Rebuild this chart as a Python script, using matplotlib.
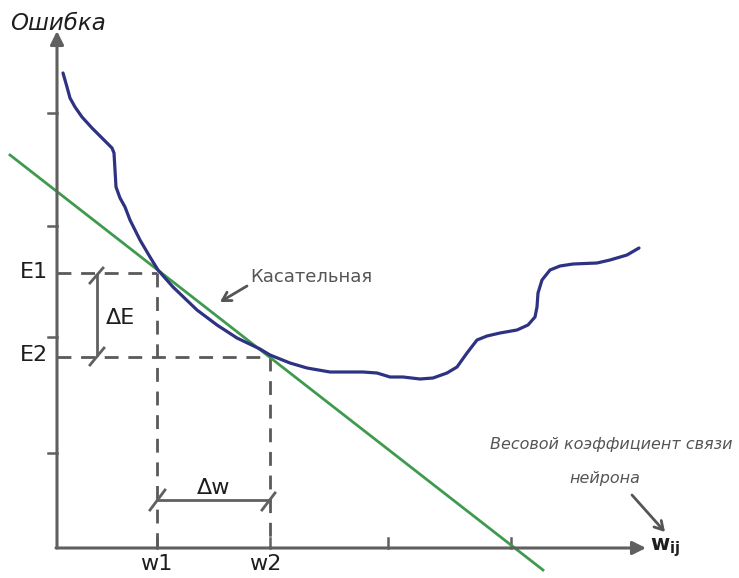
import matplotlib.pyplot as plt

plt.rcParams['font.family'] = ['DejaVu Sans']
plt.rcParams['mathtext.fontset'] = 'dejavusans'

# error curve (x = weight, y = error), origin at axes crossing
curve_x = [6, 10, 13, 18, 25, 35, 45, 55, 57, 58, 59, 63, 68, 73, 83, 93,
           101, 116, 140, 160, 180, 203, 213, 223, 233, 250, 273, 306, 320,
           333, 346, 363, 376, 390, 400, 410, 420, 430, 443, 460, 471, 478,
           480, 481, 485, 493, 503, 516, 540, 553, 570, 582]
curve_y = [475, 461, 450, 441, 431, 420, 410, 400, 395, 378, 361, 350, 341,
           328, 308, 291, 278, 261, 238, 223, 210, 199, 193, 189, 185, 180,
           176, 176, 175, 171, 171, 169, 170, 175, 181, 195, 208, 212, 215,
           218, 223, 231, 241, 255, 268, 278, 282, 284, 285, 288, 293, 300]

# tangent line end points
tangent_x = [-47, 486]
tangent_y = [393, -22]

w1, w2 = 100, 213
E1, E2 = 275, 191
x_ticks = [w1, w2, 331, 454]
y_ticks = [95, 211, 322, 435]

axis_col = '#606060'
dash_col = '#5a5a5a'
text_col = '#1e1e1e'
note_col = '#555555'

fig = plt.figure(figsize=(7.39, 5.78), dpi=100)
ax = fig.add_axes([0, 0, 1, 1])
ax.set_xlim(-57, 682)
ax.set_ylim(-30, 548)
ax.axis('off')

# axes with arrows
ax.annotate('', xy=(0, 517), xytext=(0, 0),
            arrowprops=dict(arrowstyle='-|>,head_length=0.8,head_width=0.4',
                            lw=2.2, color=axis_col, shrinkA=0, shrinkB=0))
ax.annotate('', xy=(589, 0), xytext=(-1, 0),
            arrowprops=dict(arrowstyle='-|>,head_length=0.8,head_width=0.4',
                            lw=2.2, color=axis_col, shrinkA=0, shrinkB=0))
for t in x_ticks:
    ax.plot([t, t], [0, 10], color=axis_col, lw=1.8)
for t in y_ticks:
    ax.plot([-9, 0], [t, t], color=axis_col, lw=1.8)

# dashed guides
dash = dict(color=dash_col, lw=2, dashes=(5, 3.5))
ax.plot([0, w1], [E1, E1], **dash)
ax.plot([w1, w1], [E1, 0], **dash)
ax.plot([0, w2], [E2, E2], **dash)
ax.plot([w2, w2], [E2, 0], **dash)

# curve and tangent
ax.plot(tangent_x, tangent_y, color='#3f9a50', lw=2)
ax.plot(curve_x, curve_y, color='#2e3282', lw=2.3,
        solid_capstyle='round', solid_joinstyle='round')

# delta E bracket
ax.plot([40, 40], [E2 + 2, E1 - 2], color=axis_col, lw=2)
ax.plot([33, 46], [E1 - 10, E1 + 5], color=axis_col, lw=2)
ax.plot([33, 47], [E2 - 8, E2 + 9], color=axis_col, lw=2)
ax.text(63, 230, 'ΔE', fontsize=16, color=text_col, ha='center', va='center')

# delta w bracket
ax.plot([w1, w2], [48, 48], color=axis_col, lw=2)
ax.plot([w1 - 7, w1 + 8], [38, 58], color=axis_col, lw=2)
ax.plot([w2 - 8, w2 + 5], [38, 55], color=axis_col, lw=2)
ax.text((w1 + w2) / 2, 60, 'Δw', fontsize=16, color=text_col,
        ha='center', va='center')

# labels
ax.text(-9, E1 + 1, 'E1', fontsize=16, color=text_col, ha='right', va='center')
ax.text(-9, E2 + 2, 'E2', fontsize=16, color=text_col, ha='right', va='center')
ax.text(w1 - 1, -16, 'w1', fontsize=16, color=text_col, ha='center', va='center')
ax.text(w2 - 5, -16, 'w2', fontsize=16, color=text_col, ha='center', va='center')
ax.text(1, 525, 'Ошибка', fontsize=16.5, color=text_col, ha='center',
        va='center', style='italic')
ax.text(593, 0, r'$\mathbf{w}_{\mathbf{ij}}$', fontsize=15, color=text_col,
        ha='left', va='center')

ax.text(193, 271, 'Касательная', fontsize=13, color=note_col,
        ha='left', va='center')
ax.annotate('', xy=(163, 246), xytext=(190, 262),
            arrowprops=dict(arrowstyle='->,head_length=0.6,head_width=0.35',
                            lw=2, color=note_col, shrinkA=0, shrinkB=0))

ax.text(554, 103, 'Весовой коэффициент связи', fontsize=11.5, color=note_col,
        ha='center', va='center', style='italic')
ax.text(548, 70, 'нейрона', fontsize=11.5, color=note_col,
        ha='center', va='center', style='italic')
ax.annotate('', xy=(608, 16), xytext=(575, 53),
            arrowprops=dict(arrowstyle='->,head_length=0.6,head_width=0.35',
                            lw=2, color=note_col, shrinkA=0, shrinkB=0))

fig.savefig('out.png', dpi=100)
